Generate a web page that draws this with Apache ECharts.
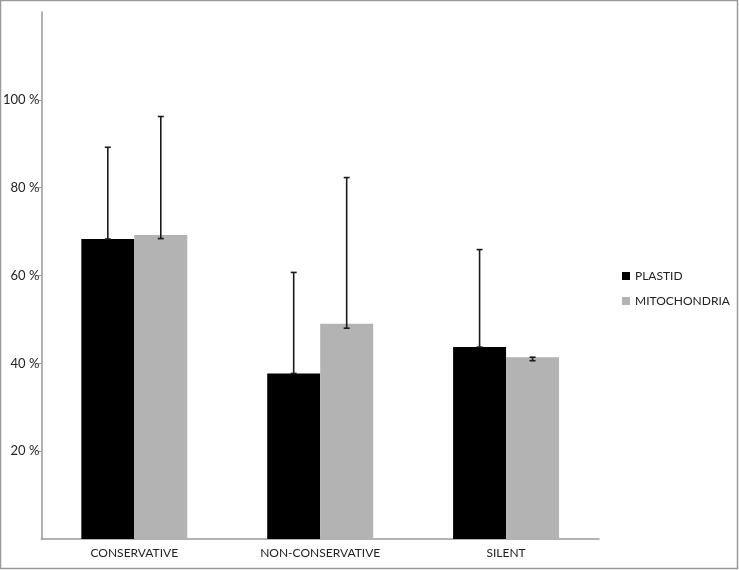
<!DOCTYPE html>
<html>
<head>
<meta charset="utf-8">
<script src="https://cdn.jsdelivr.net/npm/echarts@6/dist/echarts.min.js"></script>
<style>
  html, body { margin: 0; padding: 0; background: #fff; }
  #chart { width: 739px; height: 570px; }
</style>
</head>
<body>
<div id="chart"></div>
<script>
// categories and series values (percent)
var categories = ['CONSERVATIVE', 'NON-CONSERVATIVE', 'SILENT'];
var plastid = [68.3, 37.7, 43.7];
var mitochondria = [69.2, 49.0, 41.4];
// error bar ends (low, high)
var plastidLow = [68.3, 37.7, 43.7];
var plastidHigh = [89.2, 60.7, 65.9];
var mitoLow = [68.4, 48.0, 40.6];
var mitoHigh = [96.2, 82.3, 41.4];
var yTicks = [0, 20, 40, 60, 80, 100, 120];

var chart = echarts.init(document.getElementById('chart'));
var font = 'Lato, "Liberation Sans", sans-serif';
var CAT_GAP = 0.43;

function errData(low, high) {
    return categories.map(function (c, i) { return [i, low[i], high[i]]; });
}

function errRender(side) {
    return function (params, api) {
        var catW = api.size([1, 0])[0];
        var barW = catW * (1 - CAT_GAP) / 2;
        var lo = api.coord([api.value(0), api.value(1)]);
        var hi = api.coord([api.value(0), api.value(2)]);
        var x = lo[0] + side * barW / 2;
        var cap = 3;
        var style = { stroke: '#1a1a1a', lineWidth: 1.6 };
        return {
            type: 'group',
            children: [
                { type: 'line', shape: { x1: x, y1: lo[1], x2: x, y2: hi[1] }, style: style },
                { type: 'line', shape: { x1: x - cap, y1: hi[1], x2: x + cap, y2: hi[1] }, style: style },
                { type: 'line', shape: { x1: x - cap, y1: lo[1], x2: x + cap, y2: lo[1] }, style: style }
            ]
        };
    };
}

var option = {
    animation: false,
    textStyle: { fontFamily: font },
    graphic: [{
        type: 'rect',
        shape: { x: 0.5, y: 0.5, width: 737, height: 568 },
        style: { fill: 'none', stroke: '#9a9a9a', lineWidth: 1.5 },
        silent: true
    }],
    grid: { left: 38, right: 140, top: 12, bottom: 31 },
    legend: {
        orient: 'vertical',
        left: 617,
        top: 265,
        icon: 'rect',
        itemWidth: 8,
        itemHeight: 8,
        itemGap: 13,
        data: ['PLASTID', 'MITOCHONDRIA'],
        textStyle: { fontFamily: font, fontSize: 12, color: '#222' }
    },
    xAxis: {
        type: 'category',
        data: categories,
        axisLine: { lineStyle: { color: '#9a9a9a', width: 1.5 } },
        axisTick: { length: 5, lineStyle: { color: '#9a9a9a' } },
        axisLabel: { color: '#222', fontSize: 12, margin: 8, fontFamily: font }
    },
    yAxis: {
        type: 'value',
        min: 0,
        max: 120,
        interval: 20,
        splitLine: { show: false },
        axisLine: { show: true, lineStyle: { color: '#9a9a9a', width: 1.5 } },
        axisTick: { show: true, length: 3, lineStyle: { color: '#9a9a9a' } },
        axisLabel: {
            color: '#222',
            fontSize: 13,
            margin: 2,
            fontFamily: font,
            showMinLabel: false,
            showMaxLabel: false,
            formatter: function (v) { return yTicks.indexOf(v) > 0 ? v + ' %' : ''; }
        }
    },
    series: [
        {
            name: 'PLASTID',
            type: 'bar',
            data: plastid,
            barGap: 0,
            barCategoryGap: '43%',
            itemStyle: { color: '#000' }
        },
        {
            name: 'MITOCHONDRIA',
            type: 'bar',
            data: mitochondria,
            barGap: 0,
            barCategoryGap: '43%',
            itemStyle: { color: '#b3b3b3' }
        },
        {
            type: 'custom',
            data: errData(plastidLow, plastidHigh),
            encode: { x: 0, y: [1, 2] },
            renderItem: errRender(-1),
            z: 10
        },
        {
            type: 'custom',
            data: errData(mitoLow, mitoHigh),
            encode: { x: 0, y: [1, 2] },
            renderItem: errRender(1),
            z: 10
        }
    ]
};

chart.setOption(option);
</script>
</body>
</html>
